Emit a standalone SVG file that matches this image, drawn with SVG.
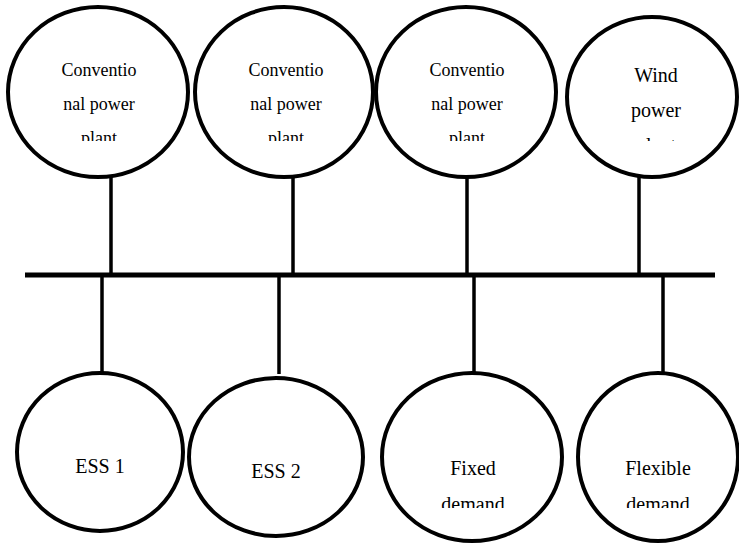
<svg xmlns="http://www.w3.org/2000/svg" width="739" height="544" viewBox="0 0 739 544">
<style>
.n{fill:#fff;stroke:#000;stroke-width:4}
.c line{stroke:#000;stroke-width:3.5}
.s{font-size:18px}
.b{font-size:20px}
</style>
<defs>
<clipPath id="ct"><rect x="0" y="0" width="739" height="141"/></clipPath>
<clipPath id="cb"><rect x="0" y="0" width="739" height="508"/></clipPath>
</defs>
<g class="c" id="connectors">
<line x1="25" y1="275" x2="715" y2="275" style="stroke-width:5"/>
<line x1="111" y1="176" x2="111" y2="275"/>
<line x1="293" y1="176" x2="293" y2="275"/>
<line x1="467" y1="176" x2="467" y2="275"/>
<line x1="639" y1="176" x2="639" y2="275"/>
<line x1="102" y1="275" x2="102" y2="374"/>
<line x1="279" y1="275" x2="279" y2="374"/>
<line x1="474" y1="275" x2="474" y2="374"/>
<line x1="663" y1="275" x2="663" y2="374"/>
</g>
<g font-family="Liberation Serif, DejaVu Serif, serif" text-anchor="middle" fill="#000">
<g id="cpp1">
<ellipse class="n" cx="98" cy="92" rx="90" ry="85"/>
<text class="s" clip-path="url(#ct)"><tspan x="99" y="76">Conventio</tspan><tspan x="99" y="110">nal power</tspan><tspan x="99" y="144">plant</tspan></text>
</g>
<g id="cpp2">
<ellipse class="n" cx="284" cy="92" rx="89" ry="85"/>
<text class="s" clip-path="url(#ct)"><tspan x="286" y="76">Conventio</tspan><tspan x="286" y="110">nal power</tspan><tspan x="286" y="144">plant</tspan></text>
</g>
<g id="cpp3">
<ellipse class="n" cx="466" cy="92" rx="90" ry="85"/>
<text class="s" clip-path="url(#ct)"><tspan x="467" y="76">Conventio</tspan><tspan x="467" y="110">nal power</tspan><tspan x="467" y="144">plant</tspan></text>
</g>
<g id="wind">
<ellipse class="n" cx="652" cy="97" rx="85" ry="80"/>
<text class="b" clip-path="url(#ct)"><tspan x="656" y="82">Wind</tspan><tspan x="656" y="117">power</tspan><tspan x="656" y="152">plant</tspan></text>
</g>
<g id="ess1">
<ellipse class="n" cx="100" cy="452" rx="83" ry="79"/>
<text class="b" x="100" y="473">ESS 1</text>
</g>
<g id="ess2">
<ellipse class="n" cx="276" cy="457" rx="87" ry="79"/>
<text class="b" x="276" y="478">ESS 2</text>
</g>
<g id="fixed">
<ellipse class="n" cx="472" cy="457" rx="90" ry="84"/>
<text class="b" clip-path="url(#cb)"><tspan x="473" y="475">Fixed</tspan><tspan x="473" y="511">demand</tspan></text>
</g>
<g id="flexible">
<ellipse class="n" cx="658" cy="457" rx="80" ry="84"/>
<text class="b" clip-path="url(#cb)"><tspan x="658" y="475">Flexible</tspan><tspan x="658" y="511">demand</tspan></text>
</g>
</g>
</svg>
